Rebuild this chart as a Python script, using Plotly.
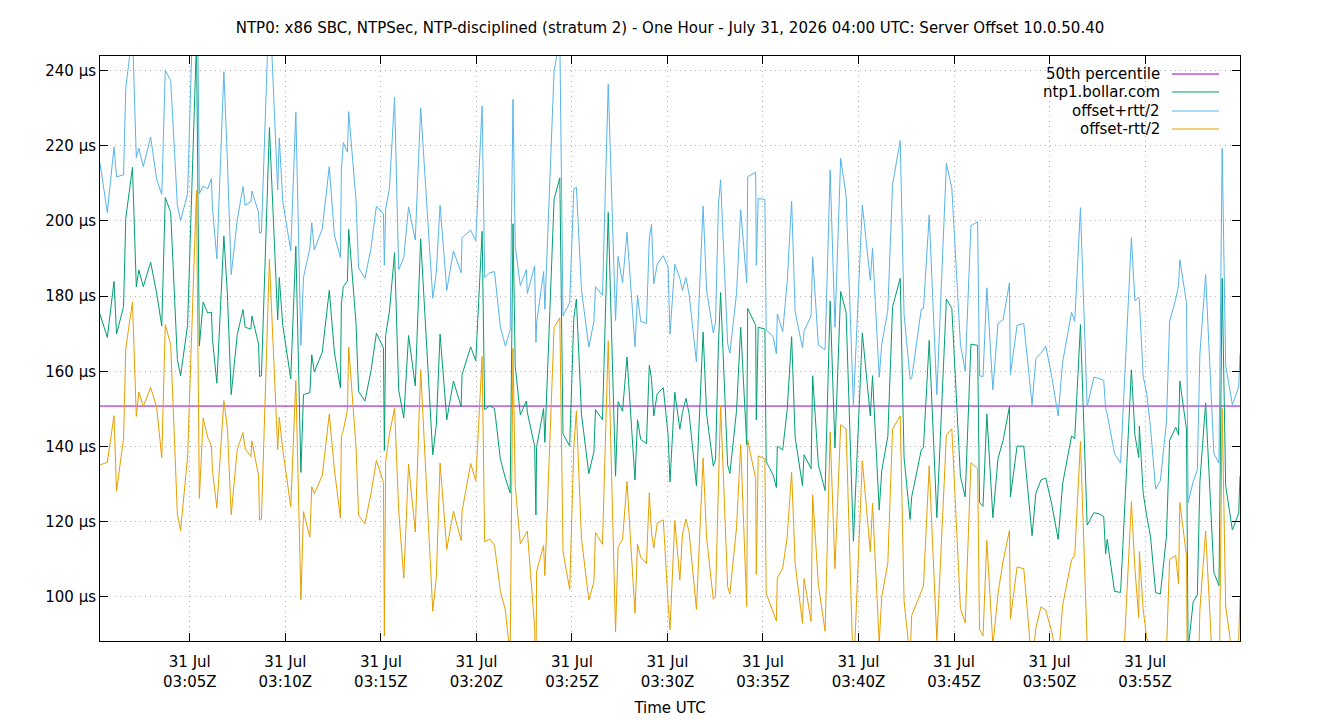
import pandas as pd
import plotly.graph_objects as go

# seconds after 03:00:00 UTC, 31 Jul 2026
t_sec = [18, 41, 62, 70, 92, 99, 120, 132, 140, 154, 177, 196, 212, 223, 240, 261, 271, 293, 321, 330,
         342, 356, 368, 371, 385, 407, 418, 430, 449, 467, 474, 492, 495, 516, 519, 525, 550, 576, 581, 592,
         617, 633, 649, 657, 677, 683, 691, 716, 738, 754, 773, 776, 782, 795, 799, 822, 830, 850, 869, 886,
         908, 911, 915, 927, 943, 956, 972, 987, 1008, 1025, 1063, 1074, 1086, 1107, 1128, 1152, 1155, 1182, 1198, 1218,
         1226, 1242, 1257, 1275, 1291, 1306, 1315, 1322, 1338, 1357, 1360, 1383, 1387, 1389, 1411, 1415, 1444, 1462, 1472, 1493,
         1506, 1514, 1530, 1553, 1569, 1574, 1596, 1614, 1637, 1645, 1659, 1673, 1698, 1706, 1716, 1734, 1743, 1750, 1757, 1768,
         1787, 1802, 1808, 1823, 1839, 1847, 1858, 1868, 1891, 1912, 1923, 1944, 1951, 1960, 1967, 1989, 1996, 2017, 2030, 2049,
         2052, 2077, 2079, 2085, 2106, 2110, 2132, 2142, 2145, 2162, 2176, 2190, 2201, 2224, 2229, 2251, 2256, 2274, 2295, 2311,
         2326, 2344, 2361, 2384, 2412, 2437, 2444, 2465, 2473, 2492, 2507, 2531, 2543, 2562, 2567, 2597, 2604, 2622, 2646, 2676,
         2693, 2720, 2735, 2753, 2774, 2780, 2791, 2803, 2822, 2838, 2854, 2874, 2877, 2898, 2919, 2945, 2957, 2973, 2988, 3006,
         3027, 3041, 3069, 3079, 3097, 3118, 3139, 3155, 3170, 3176, 3181, 3204, 3223, 3257, 3268, 3280, 3282, 3294, 3305, 3317,
         3333, 3348, 3367, 3377, 3396, 3405, 3409, 3430, 3435, 3451, 3464, 3472, 3490, 3516, 3532, 3542, 3553, 3574, 3594, 3598]

# server offset (µs)
offset_us = [175.2, 169.0, 183.9, 169.9, 177.2, 200.7, 214.2, 182.4, 186.9, 182.5, 189.0, 180.7, 172.0, 206.2, 202.2, 163.1, 158.8, 172.2, 248.0, 166.7,
             178.4, 175.5, 175.7, 168.7, 156.8, 195.9, 180.7, 153.8, 169.7, 176.4, 171.7, 171.2, 174.7, 167.2, 158.6, 158.8, 224.8, 173.7, 184.9, 172.2,
             158.0, 193.2, 133.1, 153.8, 154.3, 164.4, 159.8, 165.1, 181.5, 165.1, 155.6, 177.9, 182.5, 184.0, 197.7, 172.7, 154.6, 152.1, 160.1, 170.1,
             166.2, 138.9, 169.5, 176.0, 191.5, 155.0, 147.6, 169.5, 156.1, 195.2, 137.8, 145.6, 169.9, 147.1, 157.4, 150.6, 159.1, 166.5, 162.8, 197.2,
             149.8, 150.8, 150.1, 136.8, 131.6, 127.6, 199.2, 161.4, 148.4, 152.1, 149.1, 140.0, 121.8, 139.8, 150.1, 141.1, 205.7, 211.4, 143.4, 140.1,
             174.2, 179.2, 148.6, 132.8, 138.6, 149.8, 147.1, 202.2, 132.1, 151.9, 149.4, 163.8, 131.1, 147.1, 141.9, 140.8, 161.6, 158.0, 148.1, 154.1,
             155.6, 143.1, 130.6, 154.4, 144.6, 149.0, 152.8, 148.8, 129.6, 170.4, 148.6, 134.8, 136.6, 166.7, 180.9, 135.1, 132.8, 149.6, 171.7, 140.5,
             176.7, 172.2, 147.1, 171.7, 171.2, 136.0, 132.4, 129.1, 140.1, 139.1, 149.8, 169.2, 142.4, 129.6, 137.8, 134.1, 158.8, 135.1, 128.3, 178.7,
             139.6, 181.2, 175.7, 114.8, 170.2, 148.1, 158.8, 123.1, 133.6, 142.6, 177.2, 184.7, 137.1, 120.6, 126.6, 139.1, 139.8, 168.2, 121.1, 179.2,
             176.7, 132.1, 126.6, 167.2, 166.9, 125.1, 124.1, 148.6, 121.1, 136.8, 141.6, 150.6, 126.6, 140.1, 140.1, 116.3, 127.6, 131.1, 131.6, 125.0,
             115.3, 130.1, 142.8, 142.1, 172.4, 119.1, 122.4, 122.1, 121.4, 111.5, 115.3, 101.5, 101.2, 160.4, 143.1, 137.1, 145.4, 127.6, 121.6, 116.0,
             101.2, 100.8, 116.1, 141.6, 145.1, 143.1, 157.4, 144.6, 86.0, 98.7, 100.5, 130.6, 151.6, 106.5, 103.0, 184.7, 129.6, 117.8, 122.3, 132.1]

# offset + rtt/2 (µs)
upper_us = [215.3, 202.2, 219.6, 211.7, 212.2, 235.3, 250.0, 216.8, 219.3, 214.4, 222.3, 211.0, 207.0, 240.0, 237.3, 204.2, 200.0, 207.2, 288.0, 207.2,
            209.2, 208.5, 211.2, 203.7, 189.9, 239.6, 216.3, 185.7, 200.2, 209.1, 204.1, 205.1, 207.9, 202.2, 196.7, 196.9, 259.9, 208.2, 222.0, 205.2,
            192.0, 228.8, 166.9, 184.9, 192.7, 199.5, 192.2, 197.9, 214.4, 196.2, 190.2, 213.2, 220.8, 218.3, 229.0, 205.4, 187.5, 184.7, 192.7, 203.9,
            201.9, 188.2, 203.0, 208.7, 232.8, 187.0, 190.2, 203.7, 194.9, 230.0, 179.4, 186.2, 204.2, 181.5, 192.0, 186.2, 195.5, 197.5, 194.7, 230.5,
            184.9, 186.2, 186.5, 171.9, 166.7, 170.9, 232.3, 193.2, 182.7, 187.0, 180.7, 188.0, 167.7, 172.8, 186.5, 176.5, 239.8, 248.6, 174.7, 178.2,
            208.5, 208.9, 181.7, 166.4, 173.2, 182.5, 180.2, 236.3, 173.5, 190.5, 183.5, 196.9, 166.5, 180.2, 173.2, 172.7, 195.5, 199.0, 183.2, 188.5,
            190.7, 187.7, 169.9, 188.5, 184.7, 181.5, 184.9, 180.4, 162.5, 203.9, 181.5, 170.2, 172.9, 204.2, 210.9, 167.4, 164.8, 180.7, 202.9, 183.5,
            211.7, 212.9, 188.2, 205.9, 205.7, 171.0, 169.2, 164.6, 175.2, 170.5, 183.7, 205.2, 175.9, 166.2, 170.7, 174.7, 190.4, 166.9, 165.7, 213.5,
            171.7, 216.6, 206.7, 151.1, 204.2, 184.2, 192.7, 158.4, 167.2, 176.2, 209.7, 221.3, 175.2, 157.8, 158.1, 176.5, 176.7, 201.5, 153.8, 215.3,
            208.7, 167.2, 160.1, 198.7, 199.7, 158.8, 158.6, 182.2, 155.1, 172.7, 173.7, 183.5, 159.1, 172.2, 172.7, 151.1, 163.4, 164.8, 166.7, 159.0,
            148.1, 162.4, 175.7, 173.2, 203.5, 150.6, 158.4, 158.1, 157.6, 150.1, 148.6, 138.1, 135.6, 195.5, 178.7, 179.7, 178.7, 158.6, 154.1, 145.0,
            128.7, 130.9, 146.6, 173.2, 179.2, 182.7, 189.7, 178.2, 125.0, 130.7, 133.8, 164.6, 185.7, 138.1, 135.6, 219.3, 161.6, 151.1, 155.8, 164.6]

p50_us = 150.75
y_ticks = [100, 120, 140, 160, 180, 200, 220, 240]
y_tick_labels = [f"{v} µs" for v in y_ticks]

base = pd.Timestamp("2026-07-31 03:00:00")
times = [(base + pd.Timedelta(seconds=s)).strftime("%Y-%m-%d %H:%M:%S") for s in t_sec]
half_rtt = [u - o for u, o in zip(upper_us, offset_us)]
lower_us = [o - h for o, h in zip(offset_us, half_rtt)]

x0 = times[0]
x1 = times[-1]

C_P50 = "#9400d3"
C_OFF = "#009e73"
C_UP = "#56b4e9"
C_LO = "#e69f00"
FONT = "DejaVu Sans"
GRID = "#b0b0b0"

fig = go.Figure()
fig.add_trace(go.Scatter(x=[x0, x1], y=[p50_us, p50_us], mode="lines", name="50th percentile",
                         line=dict(color=C_P50, width=1), showlegend=False))
fig.add_trace(go.Scatter(x=times, y=offset_us, mode="lines", name="ntp1.bollar.com",
                         line=dict(color=C_OFF, width=1), showlegend=False))
fig.add_trace(go.Scatter(x=times, y=upper_us, mode="lines", name="offset+rtt/2",
                         line=dict(color=C_UP, width=1), showlegend=False))
fig.add_trace(go.Scatter(x=times, y=lower_us, mode="lines", name="offset-rtt/2",
                         line=dict(color=C_LO, width=1), showlegend=False))

# gnuplot-style key: text right-aligned, sample line to its right
legend_items = [("50th percentile", C_P50), ("ntp1.bollar.com", C_OFF),
                ("offset+rtt/2", C_UP), ("offset-rtt/2", C_LO)]
row_y = [0.9692, 0.9385, 0.906, 0.8752]
for (label, col), ry in zip(legend_items, row_y):
    fig.add_annotation(xref="paper", yref="paper", x=0.9316, y=ry, text=label, showarrow=False,
                       xanchor="right", yanchor="middle", font=dict(family=FONT, size=15, color="black"))
    fig.add_shape(type="line", xref="paper", yref="paper", x0=0.9404, x1=0.9816, y0=ry, y1=ry,
                  line=dict(color=col, width=1))

fig.update_layout(
    width=1340, height=720,
    margin=dict(l=100, r=100, t=56, b=79),
    paper_bgcolor="white", plot_bgcolor="white",
    font=dict(family=FONT, size=15, color="black"),
    title=dict(text="NTP0: x86 SBC, NTPSec, NTP-disciplined (stratum 2) - One Hour - July 31, 2026 04:00 UTC: Server Offset 10.0.50.40",
               x=0.5, xanchor="center", y=1 - 28 / 720, yanchor="middle", yref="container",
               font=dict(family=FONT, size=15, color="black")),
    showlegend=False,
)
fig.update_xaxes(
    type="date", range=[x0, x1], automargin=False,
    tick0="2026-07-31 03:05:00", dtick=300000, tickformat="%d %b<br>%H:%MZ",
    ticks="inside", ticklen=8, tickcolor="black", ticklabelstandoff=7,
    showline=True, linecolor="black", linewidth=1, mirror="ticks",
    showgrid=True, gridcolor=GRID, griddash="1px,4px", gridwidth=1,
    zeroline=False,
    title=dict(text="Time UTC", font=dict(family=FONT, size=15), standoff=12),
    tickfont=dict(family=FONT, size=15, color="black"),
)
fig.update_yaxes(
    range=[88.3, 243.8], automargin=False,
    tickmode="array", tickvals=y_ticks, ticktext=y_tick_labels,
    ticks="inside", ticklen=8, tickcolor="black",
    showline=True, linecolor="black", linewidth=1, mirror="ticks",
    showgrid=True, gridcolor=GRID, griddash="1px,4px", gridwidth=1,
    zeroline=False,
    tickfont=dict(family=FONT, size=15, color="black"),
)

fig.write_html("out.html")
